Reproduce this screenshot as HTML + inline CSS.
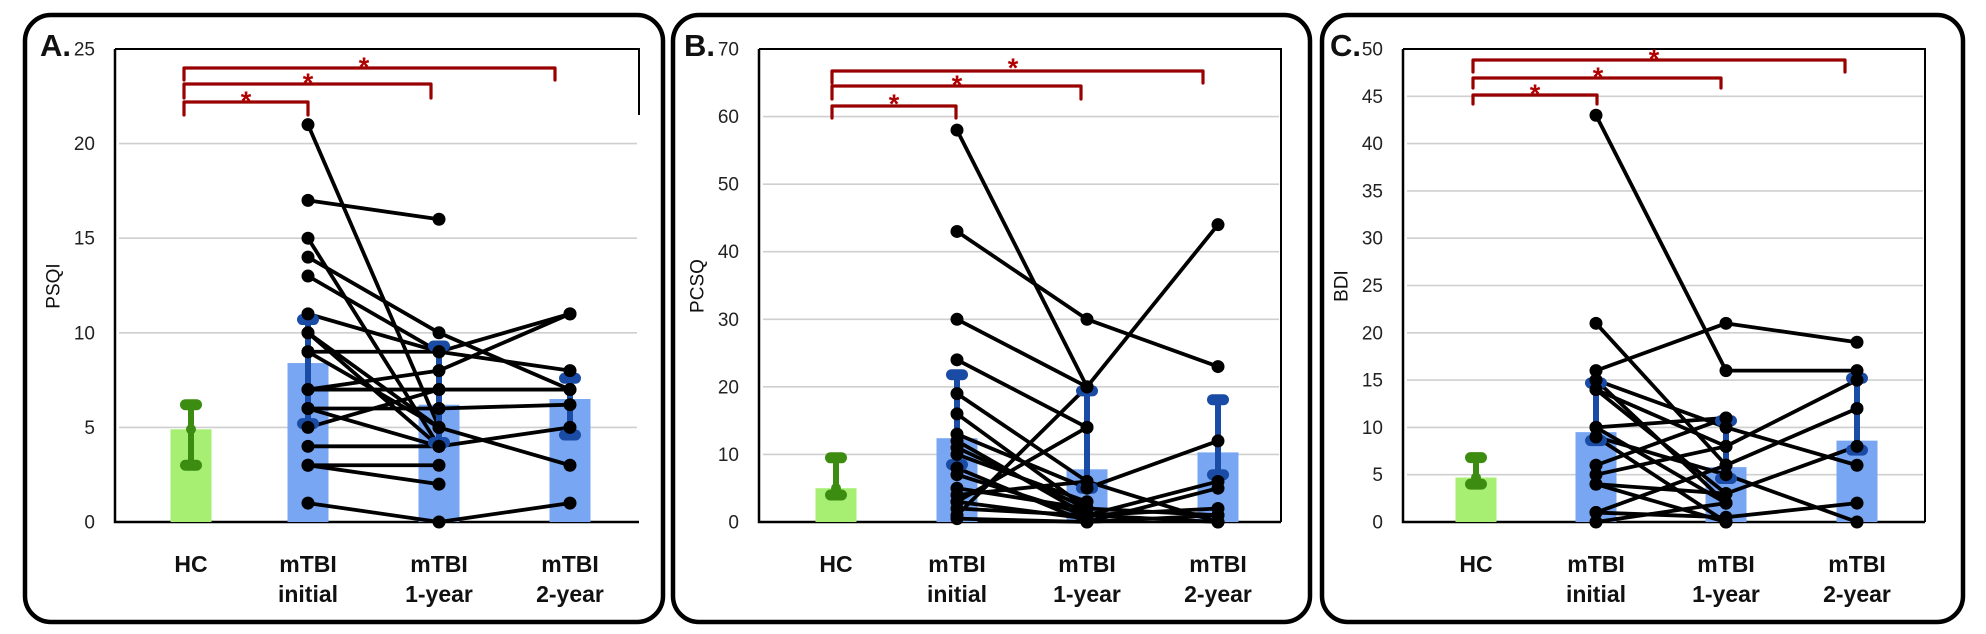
<!DOCTYPE html>
<html><head><meta charset="utf-8"><style>
html,body{margin:0;padding:0;background:#fff;}
svg{display:block;font-family:"Liberation Sans",sans-serif;}
</style></head><body>
<svg id="fig" width="1986" height="634" viewBox="0 0 1986 634" xmlns="http://www.w3.org/2000/svg"></svg>
<script>
const categories = ["HC", "mTBI|initial", "mTBI|1-year", "mTBI|2-year"];

// Panel A: PSQI
const psqiMeans = [4.9, 8.4, 6.2, 6.5];
const psqiErrLow = [3.0, 5.2, 4.2, 4.6];
const psqiErrHigh = [6.2, 10.7, 9.3, 7.6];
const psqiInitial = [21, 17, 15, 14, 13, 11, 10, 10, 9, 9, 7, 7, 6, 6, 5, 4, 3, 3, 1];
const psqi1yr     = [5, 16, 4, 10, 9, 9, 5, 4, 9, 5, 8, 7, 6, 4, 7, 4, 3, 2, 0];
const psqi2yr     = [null, null, null, 7, 11, 8, null, null, null, 3, 11, 7, 6.2, null, null, 5, null, null, 1];
const psqiTicks = [0, 5, 10, 15, 20, 25];

// Panel B: PCSQ
const pcsqMeans = [5.0, 12.4, 7.8, 10.3];
const pcsqErrLow = [4.0, 8.5, 5.0, 7.0];
const pcsqErrHigh = [9.5, 21.8, 19.4, 18.1];
const pcsqInitial = [58, 43, 30, 24, 19, 16, 13, 12, 10, 8, 7, 5, 4, 3, 2, 1, 0.5, 3, 11];
const pcsq1yr     = [20, 30, 20, 14, 6, 2, 5, 1, 3, 0, 1, 2, 6, 0.5, 1, 20, 0, 14, 2];
const pcsq2yr     = [null, 23, null, null, null, null, 12, 6, null, 5, 2, 1, 0, null, 0, 44, 1, null, null];
const pcsqTicks = [0, 10, 20, 30, 40, 50, 60, 70];

// Panel C: BDI
const bdiMeans = [4.7, 9.5, 5.8, 8.6];
const bdiErrLow = [4.0, 8.6, 4.6, 7.6];
const bdiErrHigh = [6.8, 14.7, 10.7, 15.2];
const bdiInitial = [43, 16, 21, 15, 14, 14, 10, 10, 9, 6, 5, 4, 4, 1, 0, 1, 9, 15];
const bdi1yr     = [16, 21, 6, 10, 8, 3, 11, 2, 5, 11, 8, 3, 0, 0.5, 2, 6, 0, 2];
const bdi2yr     = [16, 19, null, 6, 15, null, null, null, 0, null, null, 8, null, 2, null, 12, null, null];
const bdiTicks = [0, 5, 10, 15, 20, 25, 30, 35, 40, 45, 50];

const NS = "http://www.w3.org/2000/svg";
const svg = document.getElementById("fig");
function mk(tag, attrs, parent) {
  const e = document.createElementNS(NS, tag);
  for (const k in attrs) e.setAttribute(k, attrs[k]);
  (parent || svg).appendChild(e);
  return e;
}

const panels = [
  {id:"a", letter:"A.", title:"PSQI", frame:[25,663], axisX:115, rightX:639, rightBottom:115, max:25, ticks:psqiTicks,
   cx:[191,308,439,570], means:psqiMeans, lo:psqiErrLow, hi:psqiErrHigh, s0:psqiInitial, s1:psqi1yr, s2:psqi2yr,
   brL:184, br:[{y:102,x2:308,leg:115,sx:246,sy:96},{y:84,x2:431,leg:98,sx:308,sy:78},{y:68,x2:555,leg:80,sx:364,sy:62}], titleX:54, letterX:40},
  {id:"b", letter:"B.", title:"PCSQ", frame:[673,1310], axisX:759, rightX:1281, rightBottom:522, max:70, ticks:pcsqTicks,
   cx:[836,957,1087,1218], means:pcsqMeans, lo:pcsqErrLow, hi:pcsqErrHigh, s0:pcsqInitial, s1:pcsq1yr, s2:pcsq2yr,
   brL:832, br:[{y:106,x2:956,leg:118,sx:894,sy:99},{y:86,x2:1081,leg:99,sx:957,sy:80},{y:71,x2:1203,leg:83,sx:1013,sy:63}], titleX:698, letterX:684},
  {id:"c", letter:"C.", title:"BDI", frame:[1322,1963], axisX:1403, rightX:1925, rightBottom:522, max:50, ticks:bdiTicks,
   cx:[1476,1596,1726,1857], means:bdiMeans, lo:bdiErrLow, hi:bdiErrHigh, s0:bdiInitial, s1:bdi1yr, s2:bdi2yr,
   brL:1473, br:[{y:95,x2:1597,leg:104,sx:1535,sy:89},{y:78,x2:1721,leg:88,sx:1598,sy:72},{y:60,x2:1845,leg:72,sx:1654,sy:54}], titleX:1342, letterX:1330}
];

const Y0 = 522, YTOP = 49;

panels.forEach(p => {
  const g = mk("g", {});
  
  
  const y = v => Y0 - (v / p.max) * (Y0 - YTOP);

  const fr = mk("rect", {x:p.frame[0], y:15, width:p.frame[1]-p.frame[0], height:607, rx:26, fill:"none", stroke:"#000", "stroke-width":4.5}, g);
  
  

  p.ticks.forEach(t => {
    if (t > 0 && t < p.max) {
      const gl = mk("line", {x1:p.axisX+4, x2:p.rightX-2, y1:y(t), y2:y(t), stroke:"#cfcfcf", "stroke-width":1.6}, g);
      
      
    }
    const tl = mk("text", {x:p.axisX-20, y:y(t)+6.5, "text-anchor":"end", "font-size":19, fill:"#222"}, g);
    tl.textContent = t;
    
    
  });

  const top = mk("path", {d:`M${p.axisX} ${YTOP} H${p.rightX} V${p.rightBottom}`, fill:"none", stroke:"#000", "stroke-width":2}, g);
  
  
  const ax = mk("path", {d:`M${p.axisX} ${YTOP} V${Y0} H${p.rightX}`, fill:"none", stroke:"#000", "stroke-width":2.5}, g);
  
  

  p.means.forEach((m, i) => {
    const b = mk("rect", {x:p.cx[i]-20.5, y:y(m), width:41, height:Y0-y(m), fill: i===0 ? "#a6ef72" : "#78a6f2"}, g);
    
    
  });

  const series = [p.s0, p.s1, p.s2];
  for (let k = 0; k < p.s0.length; k++) {
    for (let t = 0; t < 2; t++) {
      const a = series[t][k], b = series[t+1][k];
      if (a == null || b == null) continue;
      const ln = mk("line", {x1:p.cx[t+1], y1:y(a), x2:p.cx[t+2], y2:y(b), stroke:"#000", "stroke-width":3.8}, g);
      
      
    }
  }

  p.means.forEach((m, i) => {
    const col = i===0 ? "#3d8c12" : "#1a4ca6";
    const eb = mk("line", {x1:p.cx[i], x2:p.cx[i], y1:y(p.lo[i]), y2:y(p.hi[i]), stroke:col, "stroke-width":6}, g);
    
    
    [p.lo[i], p.hi[i]].forEach(v => {
      const c = mk("rect", {x:p.cx[i]-11, y:y(v)-5.5, width:22, height:11, rx:5.5, fill:col}, g);
      
      
    });
    if (i===0) {
      const md = mk("circle", {cx:p.cx[i], cy:y(m), r:5, fill:col}, g);
      
      
    }
  });

  for (let k = 0; k < p.s0.length; k++) {
    for (let t = 0; t < 3; t++) {
      const v = series[t][k];
      if (v == null) continue;
      const d = mk("circle", {cx:p.cx[t+1], cy:y(v), r:6.5, fill:"#000"}, g);
      
      
    }
  }

  p.br.forEach(b => {
    const pth = mk("path", {d:`M${p.brL} ${b.leg} V${b.y} H${b.x2} V${b.leg}`, fill:"none", stroke:"#990000", "stroke-width":3.2, "stroke-linejoin":"round", "stroke-linecap":"round"}, g);
    
    
    const st = mk("text", {x:b.sx, y:b.sy+14, "text-anchor":"middle", "font-size":27, "font-weight":"bold", fill:"#b00000"}, g);
    st.textContent = "*";
    
    
  });

  categories.forEach((c, i) => {
    const parts = c.split("|");
    parts.forEach((s, j) => {
      const t = mk("text", {x:p.cx[i], y:572 + j*30, "text-anchor":"middle", "font-size":23, "font-weight":"bold", fill:"#111"}, g);
      t.textContent = s;
      
      
    });
  });

  const at = mk("text", {x:p.titleX, y:286, "text-anchor":"middle", "font-size":19, fill:"#111", transform:`rotate(-90 ${p.titleX} 286)`, "dominant-baseline":"central"}, g);
  at.textContent = p.title;
  
  

  const lt = mk("text", {x:p.letterX, y:56, "font-size":31, "font-weight":"bold", fill:"#111"}, g);
  lt.textContent = p.letter;
  
  
});
</script>
</body></html>
